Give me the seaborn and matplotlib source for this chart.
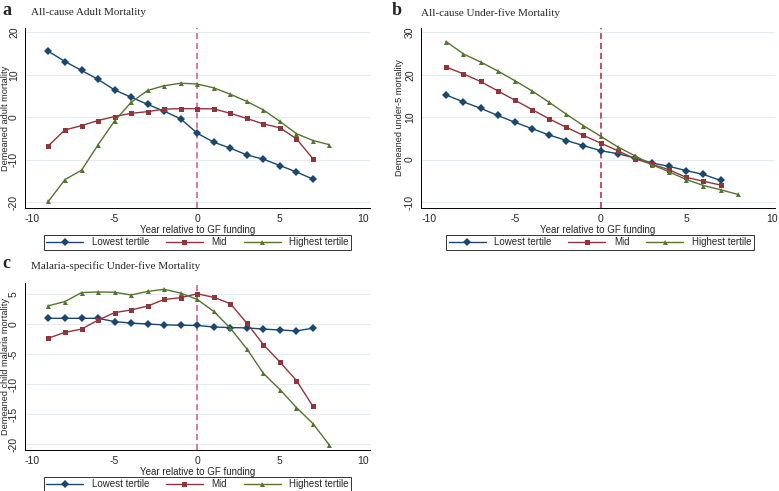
import numpy as np
import pandas as pd
import matplotlib
matplotlib.use("Agg")
import matplotlib.pyplot as plt
import seaborn as sns

sns.set_style("white")
plt.rcParams['font.family'] = ['Liberation Sans', 'DejaVu Sans']
plt.rcParams['axes.unicode_minus'] = False

groups = ["Lowest tertile", "Mid", "Highest tertile"]
colors = ["#1a476f", "#90353b", "#55752f"]
markers = ["D", "s", "^"]

years_low = list(range(-9, 8))
years_high = list(range(-9, 9))

# a: all-cause adult mortality
adult_low = [15.5, 13.1, 11.0, 8.9, 6.4, 4.7, 3.0, 1.4, -0.4, -3.8, -5.9, -7.3, -8.9, -9.9, -11.4, -12.9, -14.6]
adult_mid = [-6.7, -3.0, -2.0, -0.8, 0.15, 0.9, 1.3, 1.9, 2.0, 2.0, 1.95, 0.9, -0.3, -1.6, -2.5, -5.1, -9.8]
adult_high = [-19.8, -14.7, -12.5, -6.5, -0.9, 3.5, 6.3, 7.4, 8.0, 7.8, 6.9, 5.4, 3.7, 1.7, -1.0, -3.9, -5.5, -6.5]

# b: all-cause under-five mortality
u5_low = [15.2, 13.6, 12.1, 10.4, 8.8, 7.3, 5.8, 4.5, 3.3, 2.1, 1.4, 0.4, -0.8, -1.6, -2.6, -3.5, -4.9]
u5_mid = [21.8, 20.2, 18.4, 16.2, 14.0, 11.8, 9.6, 7.6, 5.7, 3.9, 2.1, 0.2, -1.1, -2.4, -4.2, -5.1, -6.0]
u5_high = [27.8, 24.9, 23.0, 20.9, 18.6, 16.2, 13.5, 10.7, 8.0, 5.5, 3.0, 0.9, -1.2, -2.9, -4.7, -6.1, -7.1, -8.2]

# c: malaria-specific under-five mortality
mal_low = [1.0, 1.0, 1.0, 1.0, 0.45, 0.2, 0.05, -0.1, -0.15, -0.2, -0.45, -0.55, -0.6, -0.8, -0.95, -1.1, -0.65]
mal_mid = [-2.3, -1.35, -0.8, 0.7, 1.95, 2.4, 3.05, 4.15, 4.45, 5.1, 4.5, 3.45, 0.2, -3.4, -6.3, -9.4, -13.7]
mal_high = [3.1, 3.8, 5.3, 5.4, 5.35, 4.9, 5.5, 5.85, 5.2, 4.15, 2.15, -0.65, -4.1, -8.2, -10.9, -13.9, -16.6, -20.2]


def make_df(low, mid, high):
    parts = []
    for g, vals, yrs in zip(groups, [low, mid, high], [years_low, years_low, years_high]):
        parts.append(pd.DataFrame({"year": yrs, "value": vals, "group": g}))
    return pd.concat(parts, ignore_index=True)


W, H = 779, 491
fig = plt.figure(figsize=(W / 100, H / 100), dpi=100)


def px_axes(left, top, right, bottom):
    return fig.add_axes([left / W, 1 - bottom / H, (right - left) / W, (bottom - top) / H])


def draw_panel(ax, df, ylabel, xlim, ylim, yticks, vcolor, leg_center, leg_top, ylab_x):
    ax.grid(False)
    for yt in yticks:
        ax.axhline(yt, color="#e3edf0", lw=0.8, zorder=0)
    ax.axvline(0, color=vcolor, lw=1.1, ls=(0, (4, 2.5)), zorder=1)
    sns.lineplot(data=df, x="year", y="value", hue="group", style="group",
                 hue_order=groups, style_order=groups,
                 palette=dict(zip(groups, colors)), markers=dict(zip(groups, markers)),
                 dashes=False, markersize=3.6, markeredgewidth=0, lw=1.0, ax=ax, zorder=3)
    ax.set_xlim(*xlim)
    ax.set_ylim(*ylim)
    ax.set_xticks([-10, -5, 0, 5, 10])
    ax.set_yticks(yticks)
    ax.tick_params(axis="both", labelsize=7.5, length=3.5, width=0.6, pad=0.8, color="black")
    plt.setp(ax.get_yticklabels(), rotation=90, va="center")
    for s in ["top", "right"]:
        ax.spines[s].set_visible(False)
    for s in ["left", "bottom"]:
        ax.spines[s].set_color("black")
        ax.spines[s].set_linewidth(0.7)
    ax.set_xlabel("Year relative to GF funding", fontsize=7, labelpad=1)
    ax.set_ylabel(ylabel, fontsize=6.6)
    bb = ax.get_position()
    ax.yaxis.set_label_coords((ylab_x / W - bb.x0) / bb.width, 0.5)
    handles, labels = ax.get_legend_handles_labels()
    ax.get_legend().remove()
    leg = fig.legend(handles, labels, loc="upper center", ncol=3, fontsize=7,
                     bbox_to_anchor=(leg_center / W, 1 - leg_top / H),
                     frameon=True, fancybox=False, edgecolor="black",
                     handlelength=3.8, columnspacing=1.7, handletextpad=0.9,
                     borderpad=0.25, borderaxespad=0)
    leg.get_frame().set_linewidth(0.7)
    return leg


ax_a = px_axes(25, 28, 370, 208)
draw_panel(ax_a, make_df(adult_low, adult_mid, adult_high),
           "Demeaned adult mortality", (-10.42, 10.45), (-21.4, 21.0), [-20, -10, 0, 10, 20],
           "#d6557c", 197.5, 235, 10)

ax_b = px_axes(421, 28, 775, 208)
draw_panel(ax_b, make_df(u5_low, u5_mid, u5_high),
           "Demeaned under-5 mortality", (-10.47, 10.17), (-11.4, 31.0), [-10, 0, 10, 20, 30],
           "#b5223f", 600, 235, 404)

ax_c = px_axes(25, 283, 370, 450)
draw_panel(ax_c, make_df(mal_low, mal_mid, mal_high),
           "Demeaned child malaria mortality", (-10.42, 10.45), (-21.0, 6.9), [-20, -15, -10, -5, 0, 5],
           "#d6557c", 197.5, 477, 10)

# panel letters and titles
for letter, title, x0, y0 in [("a", "All-cause Adult Mortality", 2, 2),
                              ("b", "All-cause Under-five Mortality", 392, 2),
                              ("c", "Malaria-specific Under-five Mortality", 2, 255)]:
    fig.text(x0 / W, 1 - y0 / H, letter, fontsize=13, fontweight="bold",
             family="Liberation Serif", va="top", ha="left")
    fig.text((x0 + 29) / W, 1 - (y0 + 6) / H, title, fontsize=8,
             family="Liberation Serif", va="top", ha="left")

fig.savefig("out.png", dpi=100)
